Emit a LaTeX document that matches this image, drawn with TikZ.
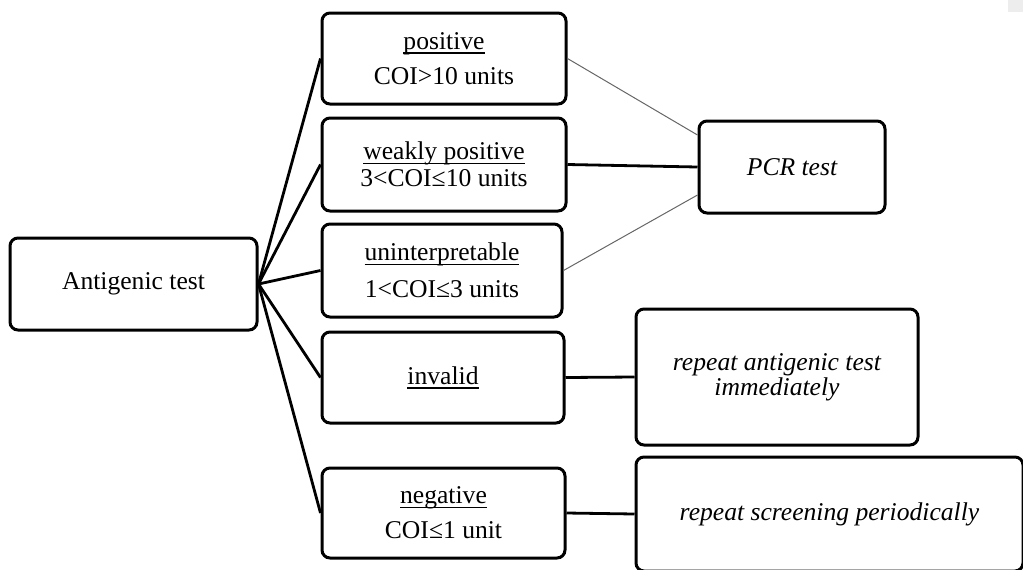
\documentclass[tikz,border=0pt]{standalone}
\usepackage{fontspec}
\setmainfont{Liberation Serif}
\newcommand{\myul}[1]{\setbox0\hbox{#1}\rlap{\rule[-2.2pt]{\wd0}{0.7pt}}\box0}
\begin{document}
\begin{tikzpicture}[x=0.5pt,y=-0.5pt,
  box/.style={draw=black,line width=1.5pt,rounded corners=4pt,align=center,inner sep=0pt,
    font=\fontsize{12.8}{15}\selectfont},
  thick link/.style={line width=1.4pt,draw=black},
  thin link/.style={line width=0.5pt,draw=black!60}]
\useasboundingbox (0,0) rectangle (1023,569);
\clip (0,0) rectangle (1023,569);
\fill[black!7] (1008,0) rectangle (1023,12);
\node[box,minimum width=123.5pt,minimum height=46pt] (ant) at (133.5,284) {\raisebox{-1.5pt}{Antigenic test}};
\node[box,minimum width=122pt,minimum height=45.5pt] (pos) at (444,58.5) {\myul{positive}\\[2.5pt]COI>10 units};
\node[box,minimum width=122pt,minimum height=46.5pt] (weak) at (444,164.5) {\myul{weakly positive}\\[-1.5pt]3<COI≤10 units};
\node[box,minimum width=120pt,minimum height=46.5pt] (unint) at (442,270.5) {\myul{uninterpretable}\\[3.5pt]1<COI≤3 units};
\node[box,minimum width=121pt,minimum height=45.5pt] (inval) at (443,377.5) {\myul{invalid}};
\node[box,minimum width=121.5pt,minimum height=45pt] (neg) at (443.5,513) {\myul{negative}\\[2.5pt]COI≤1 unit};
\node[box,minimum width=93pt,minimum height=46pt,font=\fontsize{12.8}{15}\selectfont\itshape] (pcr) at (792,167) {PCR test};
\node[box,minimum width=141pt,minimum height=68pt,font=\fontsize{12.8}{15}\selectfont\itshape] (rep) at (777,377) {repeat antigenic test\\[-2.5pt]immediately};
\node[box,minimum width=193.5pt,minimum height=57pt,font=\fontsize{12.8}{15}\selectfont\itshape] (scr) at (829.5,514) {repeat screening periodically};
\foreach \t in {pos,weak,unint,inval,neg}
  \draw[thick link] (ant.east) -- (\t.west);
\draw[thin link] (pos.east) -- ([yshift=16pt]pcr.west);
\draw[thick link] (weak.east) -- (pcr.west);
\draw[thin link] (unint.east) -- ([yshift=-14pt]pcr.west);
\draw[thick link] (inval.east) -- (rep.west);
\draw[thick link] (neg.east) -- (scr.west);
\end{tikzpicture}
\end{document}
